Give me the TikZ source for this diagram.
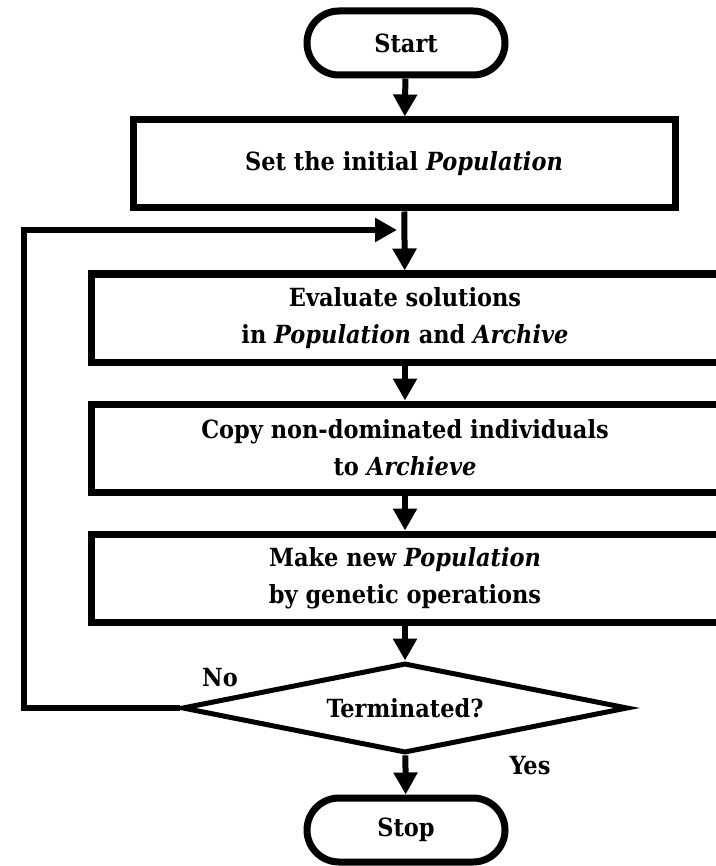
\documentclass[tikz,border=0pt]{standalone}
\usepackage{fontspec}
\setmainfont{DejaVu Serif Condensed}
\usetikzlibrary{arrows.meta}
\usetikzlibrary{shapes.geometric}
\tikzset{
    chartfont/.style={font=\fontsize{25}{37}\selectfont\bfseries},
    terminal/.style={draw,chartfont,line width=7pt,rounded corners=32pt,minimum width=198pt,minimum height=64pt,inner sep=0pt},
    process/.style={draw,chartfont,line width=7pt,align=center,minimum height=88pt,inner sep=0pt},
    decision/.style={draw,chartfont,diamond,line width=5pt,aspect=5,minimum width=446pt,minimum height=90pt,inner sep=0pt},
    flow/.style={line width=6pt,-{Triangle[length=22pt,width=23pt]}},
}
\begin{document}
\begin{tikzpicture}[x=1pt,y=-1pt]
\useasboundingbox (0,0) rectangle (715,866);
\node[terminal] (start) at (406,43) {Start};
\node[process,minimum width=542pt] (init) at (404,164) {Set the initial \textit{Population}};
\node[process,minimum width=628pt] (eval) at (405,318) {Evaluate solutions\\in \textit{Population} and \textit{Archive}};
\node[process,minimum width=628pt] (copy) at (405,448) {Copy non-dominated individuals\\to \textit{Archieve}};
\node[process,minimum width=628pt] (make) at (405,578) {Make new \textit{Population}\\by genetic operations};
\node[decision] (term) at (405,708) {Terminated?};
\node[terminal] (stop) at (406,830) {Stop};
\node[chartfont] (no) at (220,678) {No};
\node[chartfont] (yes) at (530,766) {Yes};
\coordinate (loopx) at (24,0);
\coordinate (loopin) at (397,230);
\draw[flow] (start) -- (init);
\draw[flow] (init) -- (eval);
\draw[flow] (eval) -- (copy);
\draw[flow] (copy) -- (make);
\draw[flow] (make) -- (term);
\draw[flow] (term) -- (stop);
\draw[flow] (term.west) -- (term.west -| loopx) |- (loopin);
\end{tikzpicture}
\end{document}
